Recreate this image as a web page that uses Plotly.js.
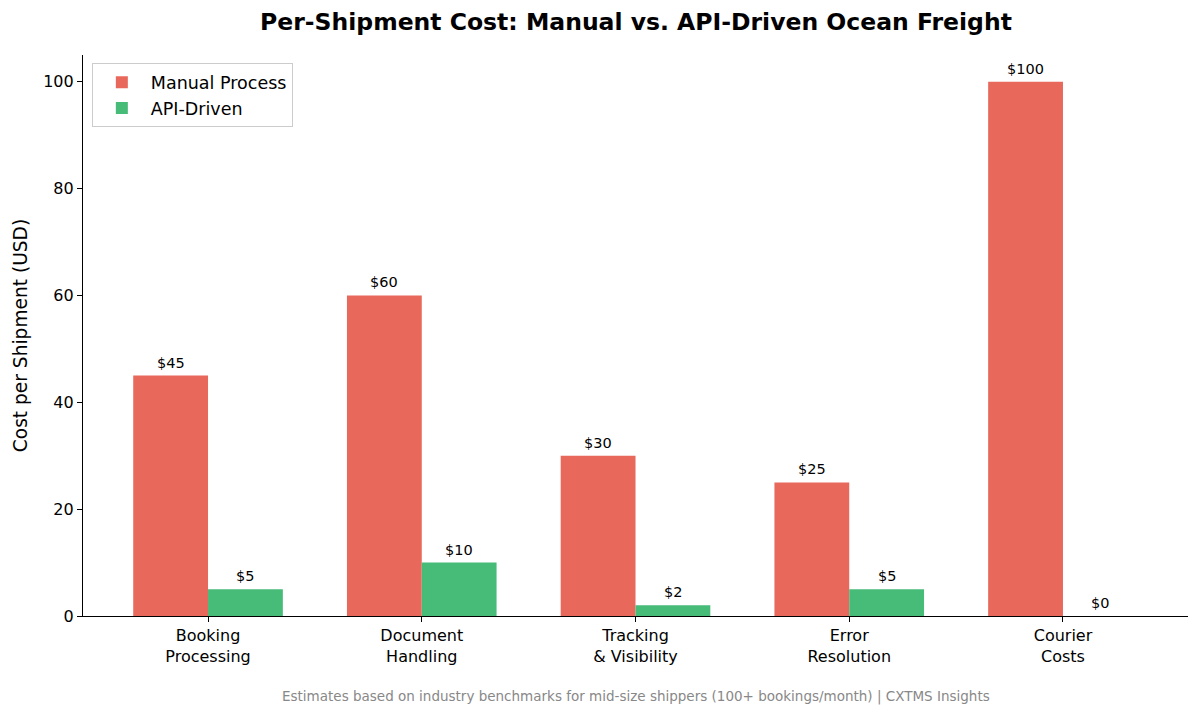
<!DOCTYPE html>
<html>
<head>
<meta charset="utf-8">
<script src="https://cdn.plot.ly/plotly-3.0.1.min.js"></script>
<style>
  html, body { margin: 0; padding: 0; background: #fff; }
  #chart { width: 1200px; height: 716px; }
</style>
</head>
<body>
<div id="chart"></div>
<script>
var categories = ["Booking<br>Processing", "Document<br>Handling", "Tracking<br>& Visibility", "Error<br>Resolution", "Courier<br>Costs"];
var manual = [45, 60, 30, 25, 100];
var api = [5, 10, 2, 5, 0];

var colors = {manual: "#E8695B", api: "#47BB78"};
var font = "DejaVu Sans, sans-serif";
var xs = categories.map(function (c, i) { return i; });

var trace1 = {
    type: "bar",
    name: "Manual Process",
    x: xs,
    y: manual,
    marker: {color: colors.manual},
    hoverinfo: "skip"
};

var trace2 = {
    type: "bar",
    name: "API-Driven",
    x: xs,
    y: api,
    marker: {color: colors.api},
    hoverinfo: "skip"
};

// value labels above each bar
var annotations = [];
manual.forEach(function (v, i) {
    annotations.push({x: i - 0.175, y: v, text: "$" + v, showarrow: false,
        yanchor: "bottom", yshift: 3, font: {family: font, size: 14.5, color: "#000"}});
});
api.forEach(function (v, i) {
    annotations.push({x: i + 0.175, y: v, text: "$" + v, showarrow: false,
        yanchor: "bottom", yshift: 3, font: {family: font, size: 14.5, color: "#000"}});
});
annotations.push({
    xref: "paper", yref: "paper", x: 0.5, y: -0.144, yanchor: "middle",
    text: "Estimates based on industry benchmarks for mid-size shippers (100+ bookings/month) | CXTMS Insights",
    showarrow: false, font: {family: font, size: 13.5, color: "#888"}
});

var layout = {
    width: 1200,
    height: 716,
    margin: {l: 83, r: 12, t: 55, b: 100, pad: 0},
    paper_bgcolor: "#fff",
    plot_bgcolor: "#fff",
    font: {family: font, size: 13, color: "#000"},
    title: {
        text: "<b>Per-Shipment Cost: Manual vs. API-Driven Ocean Freight</b>",
        font: {family: font, size: 23.5, color: "#000"},
        x: 0.53, xanchor: "center", y: 0.969, yanchor: "middle"
    },
    barmode: "group",
    bargap: 0.3,
    bargroupgap: 0,
    xaxis: {
        range: [-0.585, 4.585],
        tickvals: xs,
        ticktext: categories,
        showline: true, linecolor: "#000", linewidth: 1.2,
        ticks: "outside", ticklen: 5, tickcolor: "#000",
        showgrid: false, zeroline: false,
        tickfont: {family: font, size: 16, color: "#000"}
    },
    yaxis: {
        range: [0, 105],
        tickvals: [0, 20, 40, 60, 80, 100],
        showline: true, linecolor: "#000", linewidth: 1.2,
        ticks: "outside", ticklen: 5, tickcolor: "#000",
        showgrid: false, zeroline: false,
        tickfont: {family: font, size: 16, color: "#000"},
        title: {text: "Cost per Shipment (USD)", font: {family: font, size: 18.6, color: "#000"}, standoff: 10}
    },
    legend: {
        x: 0.008, y: 0.985, xanchor: "left", yanchor: "top",
        bgcolor: "rgba(255,255,255,0.8)",
        bordercolor: "#ccc", borderwidth: 1,
        tracegroupgap: 0,
        itemwidth: 48,
        font: {family: font, size: 17.5, color: "#000"}
    },
    showlegend: true,
    annotations: annotations
};

Plotly.newPlot("chart", [trace1, trace2], layout, {displayModeBar: false, responsive: false});
</script>
</body>
</html>
